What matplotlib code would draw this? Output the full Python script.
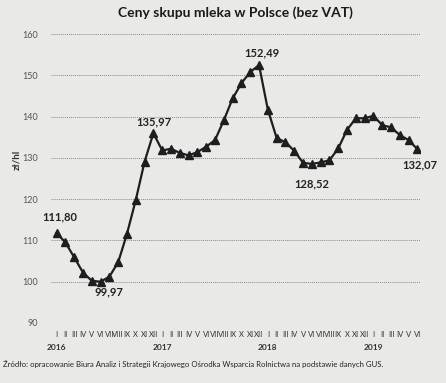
import matplotlib.pyplot as plt
import matplotlib.transforms as mtransforms

# dane: ceny skupu mleka, zł/hl, I 2016 - VI 2019
miesiace = ['I', 'II', 'III', 'IV', 'V', 'VI', 'VII', 'VIII', 'IX', 'X', 'XI', 'XII'] * 3 + \
           ['I', 'II', 'III', 'IV', 'V', 'VI']
lata = ['2016', '2017', '2018', '2019']
ceny = [111.80, 109.5, 105.9, 102.2, 100.2, 99.97, 101.2, 104.7, 111.6, 119.8, 129.1, 135.97,
        131.8, 132.2, 131.2, 130.6, 131.4, 132.7, 134.3, 139.1, 144.4, 148.1, 150.8, 152.49,
        141.7, 134.8, 133.8, 131.7, 128.8, 128.52, 128.9, 129.4, 132.3, 136.8, 139.6, 139.6,
        140.2, 137.9, 137.4, 135.5, 134.3, 132.07]
# etykiety wartości: (indeks, tekst)
etykiety = [(0, '111,80'), (5, '99,97'), (11, '135,97'), (23, '152,49'), (29, '128,52'), (41, '132,07')]
przesuniecia = {0: (2, 11.5), 5: (6, -7.5), 11: (0, 8.5), 23: (2, 9), 29: (0, -14), 41: (2, -11)}

TLO = '#e9e9e7'
plt.rcParams['font.family'] = ['Lato', 'DejaVu Sans']

fig = plt.figure(figsize=(4.46, 3.83), dpi=100, facecolor=TLO)
ax = fig.add_axes([0.114, 0.157, 0.828, 0.754], facecolor=TLO)

x = list(range(len(ceny)))
ax.plot(x, ceny, color='#1e1e1e', linewidth=1.6, marker='^', markersize=5.5,
        markerfacecolor='#1e1e1e', markeredgecolor='#1e1e1e', zorder=3)

for i, tekst in etykiety:
    dx, dy = przesuniecia[i]
    ax.annotate(tekst, (i, ceny[i]), xytext=(dx, dy), textcoords='offset points',
                ha='center', va='center', fontsize=8, fontweight='bold', color='#222222')

ax.set_xlim(-0.65, 41.3)
ax.set_ylim(90, 160)
ax.set_yticks(range(90, 161, 10))
ax.yaxis.grid(True, linestyle=(0, (1, 1)), color='#8a8a8a', linewidth=0.7)
ax.set_axisbelow(True)
for s in ax.spines.values():
    s.set_visible(False)

ax.tick_params(axis='y', length=0, pad=9, labelsize=6.5, labelcolor='#555555')
ax.set_xticks(x)
ax.set_xticklabels(miesiace, fontsize=5.5, color='#333333')
ax.tick_params(axis='x', length=0, pad=6)

trans = mtransforms.blended_transform_factory(ax.transData, ax.transAxes)
for k, rok in enumerate(lata):
    ax.text(k * 12, -0.087, rok, transform=trans, ha='center', va='center',
            fontsize=6, fontweight='bold', color='#333333')

ax.set_ylabel('zł/hl', fontsize=7, fontweight='bold', color='#333333')
ax.yaxis.set_label_coords(-0.08, 0.564)

fig.text(0.527, 0.968, 'Ceny skupu mleka w Polsce (bez VAT)', ha='center', va='center',
         fontsize=10, fontweight='bold', color='#1a1a1a')
fig.text(0.007, 0.05, 'Źródło: opracowanie Biura Analiz i Strategii Krajowego Ośrodka Wsparcia '
         'Rolnictwa na podstawie danych GUS.', ha='left', va='center', fontsize=5.6, color='#222222')

fig.savefig('out.png', dpi=100, facecolor=TLO)
